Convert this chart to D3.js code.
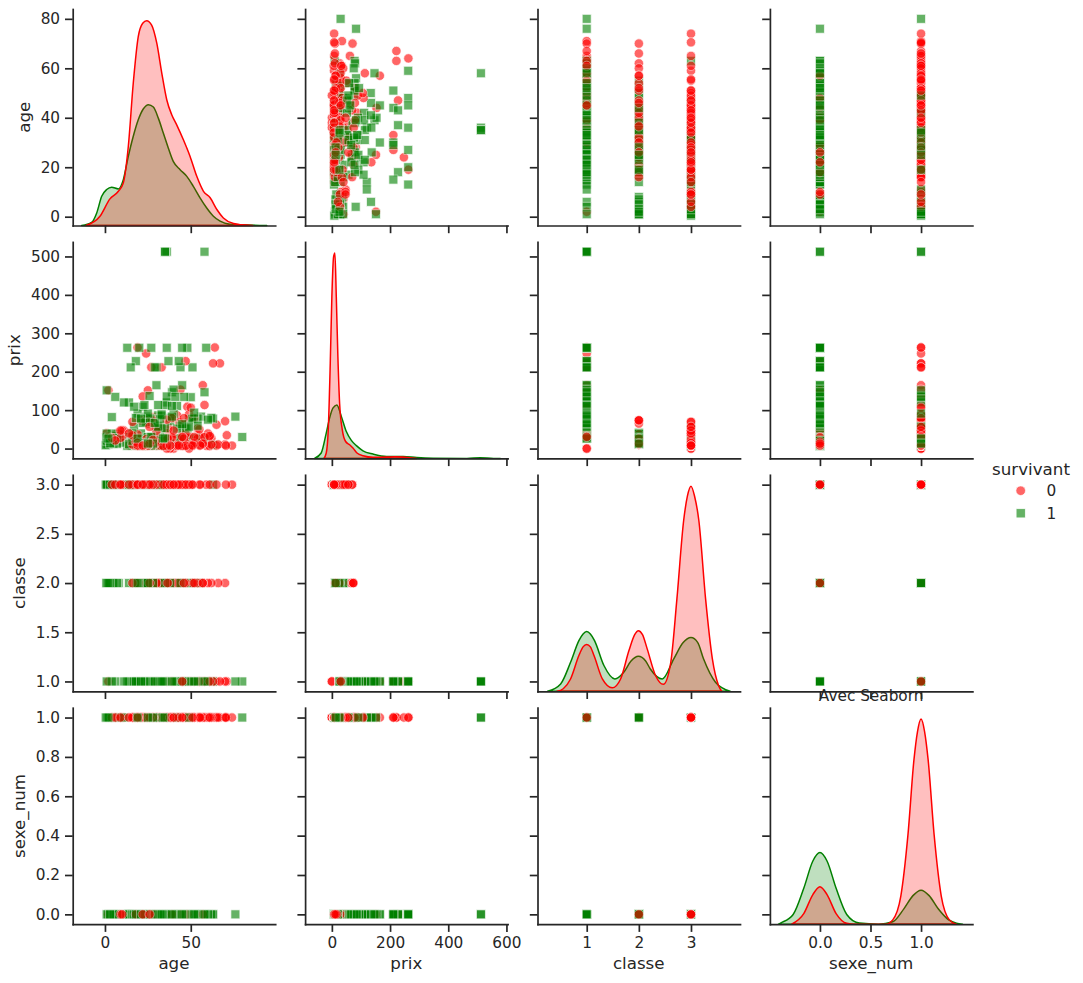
<html>
    <head>
        <title>Pairplot Titanic - Avec Seaborn</title>
        <style>
            body { margin: 0; background: #ffffff; }
            text { font-family: "DejaVu Sans", sans-serif; }
        </style>
    </head>
    <body>
        <svg></svg>

        <script src="https://d3js.org/d3.v7.min.js"></script>
        <script>
            // variables of the pairplot, in grid order
            const variables = ["age", "prix", "classe", "sexe_num"];
            const hueLevels = ["0", "1"];

            // passengers who died (survivant = 0): [age, prix, classe, sexe_num]
            const morts = [
                [71, 34.65, 1, 1], [22, 7.25, 3, 1], [70, 71.0, 1, 1], [35, 8.05, 3, 1], [65, 61.98, 1, 1],
                [2, 21.08, 3, 1], [64, 263.0, 1, 1], [20, 8.05, 3, 1], [62, 26.55, 1, 1], [39, 31.28, 3, 1],
                [61, 33.5, 1, 1], [14, 7.85, 3, 0], [67, 221.78, 1, 1], [31, 18.0, 3, 0], [63, 221.78, 1, 1],
                [28, 7.9, 3, 1], [58, 113.28, 1, 1], [8, 21.07, 3, 0], [57, 164.87, 1, 1], [21, 8.05, 3, 1],
                [56, 30.7, 1, 1], [18, 18.0, 3, 0], [55, 30.5, 1, 1], [40, 9.48, 3, 1], [54, 51.86, 1, 1],
                [3, 21.07, 3, 1], [52, 79.65, 1, 1], [7, 39.69, 3, 1], [50, 28.71, 1, 0], [16, 7.75, 3, 1],
                [47, 227.53, 1, 0], [25, 7.05, 3, 1], [46, 61.18, 1, 1], [26, 14.45, 3, 1], [45, 35.5, 1, 1],
                [30, 8.66, 3, 1], [44, 153.46, 1, 1], [24, 9.5, 3, 1], [42, 86.5, 1, 1], [45, 8.05, 3, 0],
                [40, 0.0, 1, 1], [9, 31.39, 3, 1], [38, 0.0, 1, 1], [11, 46.9, 3, 1], [37, 53.1, 1, 1],
                [43, 69.55, 3, 1], [36, 40.13, 1, 1], [47, 9.0, 3, 1], [33, 211.34, 1, 1], [4, 29.12, 3, 1],
                [31, 50.5, 1, 1], [33, 7.9, 3, 1], [29, 30.0, 1, 1], [19, 7.88, 3, 1], [28, 82.17, 1, 1],
                [29, 9.5, 3, 0], [27, 211.5, 1, 1], [37, 7.92, 3, 1], [25, 151.55, 1, 0], [1, 39.69, 3, 1],
                [24, 247.52, 1, 1], [32, 56.5, 3, 1], [22, 135.63, 1, 1], [51, 7.05, 3, 1], [19, 263.0, 1, 1],
                [55, 8.05, 3, 1], [2, 151.55, 1, 0], [59, 7.25, 3, 1], [48, 108.9, 1, 1], [61, 6.24, 3, 1],
                [70, 10.5, 2, 1], [65, 7.75, 3, 1], [66, 10.5, 2, 1], [74, 7.78, 3, 1], [62, 10.5, 2, 1],
                [70.5, 7.75, 3, 1], [60, 39.0, 2, 1], [48, 34.38, 3, 0], [57, 12.35, 2, 0], [41, 14.11, 3, 0],
                [54, 26.0, 2, 1], [36, 24.15, 3, 1], [51, 12.53, 2, 1], [23, 7.85, 3, 1], [47, 15.0, 2, 1],
                [27, 7.23, 3, 1], [44, 26.0, 2, 0], [17, 7.23, 3, 1], [43, 21.0, 2, 1], [10, 29.12, 3, 1],
                [39, 26.0, 2, 1], [6, 31.28, 3, 0], [36, 13.0, 2, 1], [5, 31.39, 3, 1], [34, 13.0, 2, 1],
                [34, 8.05, 3, 1], [33, 12.28, 2, 1], [38, 7.9, 3, 1], [31, 10.5, 2, 1], [42, 8.66, 3, 1],
                [30, 21.0, 2, 1], [44, 16.1, 3, 1], [28, 73.5, 2, 1], [50, 8.05, 3, 1], [27, 26.0, 2, 0],
                [20, 9.84, 3, 0], [25, 65.0, 2, 1], [26, 7.9, 3, 1], [24, 73.5, 2, 1], [30, 24.15, 3, 1],
                [23, 13.0, 2, 1], [22, 9.0, 3, 0], [21, 73.5, 2, 1], [15, 14.45, 3, 0], [19, 36.75, 2, 1],
                [45.5, 7.23, 3, 1], [18, 11.5, 2, 1], [40, 27.9, 3, 0], [40, 15.05, 2, 1], [2, 31.28, 3, 0],
                [16, 69.55, 3, 0], [32, 7.75, 3, 1], [28, 15.5, 3, 1], [21, 7.8, 3, 1], [35, 7.05, 3, 1],
                [41, 7.12, 3, 1], [24, 7.14, 3, 1], [19, 6.75, 3, 1],
                [18, 7.78, 3, 1], [45, 26.55, 1, 1], [26, 7.9, 3, 1], [37, 26.0, 2, 1], [44, 8.05, 3, 1],
                [49, 89.1, 1, 1], [25, 7.9, 3, 1], [29, 21.0, 2, 1], [30, 7.23, 3, 1], [58, 29.7, 1, 1],
                [33, 8.65, 3, 1], [42, 13.0, 2, 1], [17, 8.66, 3, 1], [47, 38.5, 1, 1], [28, 8.05, 3, 1],
                [24, 13.0, 2, 1], [38, 8.66, 3, 1], [39, 79.2, 1, 1], [22, 7.52, 3, 1], [52, 13.5, 2, 1],
                [45, 6.98, 3, 1], [50, 106.43, 1, 1], [49, 0.0, 3, 1], [46, 26.0, 2, 1], [36, 0.0, 3, 1],
                [36, 75.24, 1, 1], [20, 7.05, 3, 1], [57, 13.0, 2, 1], [24, 24.15, 3, 0], [46, 79.2, 1, 1],
                [9, 27.9, 3, 0], [26, 10.5, 2, 1], [10, 46.9, 3, 0], [52, 30.5, 1, 1], [4, 27.9, 3, 1],
                [32, 26.0, 2, 1], [6, 21.08, 3, 1], [55, 50.0, 1, 1], [26, 18.79, 3, 1], [16, 10.5, 2, 1],
                [39, 29.12, 3, 0], [30, 45.5, 1, 1], [35, 20.25, 3, 1], [30, 13.0, 2, 1], [32, 8.36, 3, 1],
                [61, 32.32, 1, 1], [42, 7.55, 3, 1], [36.5, 26.0, 2, 1], [55.5, 8.05, 3, 1], [29, 10.46, 3, 0],
                [30, 16.1, 3, 1], [27, 14.45, 3, 1], [47, 7.25, 3, 1], [36, 7.5, 3, 1], [21, 8.43, 3, 1],
                [34, 6.5, 3, 1], [18, 17.8, 3, 0], [38, 7.78, 3, 1], [25, 7.65, 3, 1], [43, 8.05, 3, 1],
                [51, 8.05, 3, 1], [23, 9.22, 3, 1], [16, 34.38, 3, 1], [28, 22.52, 3, 1], [40, 46.9, 3, 1],
                [9, 46.9, 3, 1], [14, 39.69, 3, 1], [26, 56.5, 3, 1], [19, 14.5, 3, 1],
                [45, 30.5, 1, 1], [19, 8.05, 3, 1], [22, 7.75, 3, 0], [26, 13.0, 2, 0]
            ];

            // passengers who survived (survivant = 1): [age, prix, classe, sexe_num]
            const survivants = [
                [80, 30.0, 1, 1], [55, 16.0, 2, 0], [76, 83.16, 1, 0], [63, 9.59, 3, 0], [63, 77.96, 1, 0],
                [52, 13.5, 2, 0], [62, 80.0, 1, 0], [47, 14.5, 3, 0], [59, 262.38, 1, 0], [50, 26.0, 2, 0],
                [58, 512.33, 1, 0], [45, 7.75, 3, 0], [58, 26.55, 1, 0], [48, 36.75, 2, 0], [56, 83.16, 1, 0],
                [41, 20.21, 3, 0], [54, 78.27, 1, 0], [45, 13.5, 2, 0], [53, 27.45, 1, 0], [39, 15.25, 3, 0],
                [52, 78.27, 1, 0], [42, 26.0, 2, 0], [51, 211.34, 1, 0], [38, 7.23, 3, 0], [50, 133.65, 1, 0],
                [40, 13.0, 2, 0], [49, 76.73, 1, 0], [35, 7.75, 3, 0], [49, 25.93, 1, 0], [36, 13.0, 2, 0],
                [48, 262.38, 1, 0], [33, 15.85, 3, 0], [48, 52.55, 1, 1], [34, 13.0, 2, 1], [48, 25.93, 1, 0],
                [32, 56.5, 3, 1], [46, 134.5, 1, 0], [32, 13.0, 2, 1], [45, 164.87, 1, 0], [31, 7.85, 3, 1],
                [45, 262.38, 1, 0], [31, 41.58, 2, 0], [44, 211.5, 1, 0], [29, 7.75, 3, 1], [44, 57.98, 1, 0],
                [30, 21.0, 2, 0], [43, 227.53, 1, 0], [27, 12.47, 3, 1], [42, 110.88, 1, 0], [29, 26.0, 2, 0],
                [42, 26.55, 1, 0], [27, 11.13, 3, 0], [40, 90.0, 1, 0], [28, 13.0, 2, 0], [39, 146.52, 1, 0],
                [26, 7.92, 3, 0], [38, 71.28, 1, 0], [26, 13.0, 2, 0], [37, 227.53, 1, 0], [26, 9.5, 3, 1],
                [36, 512.33, 1, 1], [24, 26.0, 2, 0], [36, 262.38, 1, 0], [25, 7.22, 3, 1], [36, 120.0, 1, 0],
                [22, 12.35, 2, 0], [36, 26.39, 1, 0], [24, 15.85, 3, 0], [35, 512.33, 1, 0], [21, 10.5, 2, 0],
                [35, 512.33, 1, 1], [24, 7.93, 3, 1], [35, 53.1, 1, 0], [19, 26.0, 2, 0], [35, 113.28, 1, 0],
                [23, 8.05, 3, 0], [33, 53.1, 1, 0], [17, 10.5, 2, 0], [32, 30.5, 1, 1], [22, 7.25, 3, 0],
                [31, 86.5, 1, 0], [14, 30.07, 2, 0], [30, 164.87, 1, 0], [21, 7.73, 3, 0], [30, 211.34, 1, 0],
                [8, 36.75, 2, 1], [28, 26.55, 1, 1], [20, 7.93, 3, 1], [27, 262.38, 1, 0], [6, 33.0, 2, 0],
                [27, 76.73, 1, 1], [19, 7.85, 3, 0], [26, 136.78, 1, 1], [4, 39.0, 2, 0], [24, 83.16, 1, 0],
                [18, 9.35, 3, 0], [22, 108.9, 1, 0], [3, 26.0, 2, 1], [21, 39.4, 1, 0], [16, 7.73, 3, 0],
                [20, 262.38, 1, 0], [2, 23.0, 2, 0], [18, 227.53, 1, 0], [15, 14.45, 3, 0], [17, 57.0, 1, 0],
                [1, 26.0, 2, 1], [15, 211.34, 1, 0], [13, 7.23, 3, 0], [14, 120.0, 1, 0], [0.83, 29.0, 2, 1],
                [13, 262.38, 1, 0], [9, 15.25, 3, 0], [11, 120.0, 1, 1], [7, 12.29, 3, 0], [6, 134.5, 1, 1],
                [5, 19.26, 3, 0], [4, 81.86, 1, 1], [4, 16.7, 3, 0], [1, 151.55, 1, 1], [3, 15.9, 3, 1],
                [2, 10.46, 3, 0], [1, 11.13, 3, 1], [0.42, 8.52, 3, 1],
                [38, 80.0, 1, 0], [24, 14.5, 2, 0], [28, 7.73, 3, 0], [40, 153.46, 1, 0], [27, 21.0, 2, 0],
                [18, 7.78, 3, 0], [39, 110.88, 1, 0], [34, 23.0, 2, 0], [30, 12.48, 3, 0], [33, 90.0, 1, 0],
                [38, 13.0, 2, 0], [22, 10.52, 3, 0], [24, 69.3, 1, 0], [44, 26.0, 2, 0], [36, 7.7, 3, 1],
                [29, 211.34, 1, 0], [7, 26.25, 2, 0], [14, 11.24, 3, 0], [16, 39.4, 1, 0], [5, 27.75, 2, 0],
                [4, 22.03, 3, 1], [19, 91.08, 1, 0], [3, 18.75, 2, 0], [1, 20.58, 3, 0], [22, 66.6, 1, 0],
                [25, 30.0, 2, 0], [5, 12.47, 3, 0], [30, 56.93, 1, 0], [18, 13.0, 2, 0], [3, 13.78, 3, 0],
                [26, 78.85, 1, 0], [31, 26.25, 2, 0], [19, 16.1, 3, 0], [47, 52.55, 1, 0], [35, 21.0, 2, 0],
                [24, 9.84, 3, 0], [51, 77.96, 1, 0], [23, 13.79, 2, 0], [26, 18.79, 3, 1], [54, 59.4, 1, 0],
                [1, 39.0, 2, 1], [32, 7.92, 3, 1], [60, 75.25, 1, 0], [2, 26.0, 2, 1], [16, 20.25, 3, 0],
                [17, 108.9, 1, 0], [31, 20.53, 3, 0], [31, 113.28, 1, 0], [27, 7.93, 3, 1], [36, 135.63, 1, 0],
                [25, 91.08, 1, 1], [42, 52.0, 1, 1], [31, 57.0, 1, 1], [35, 26.29, 1, 1], [49, 56.93, 1, 1],
                [27, 30.5, 1, 1], [23, 113.28, 1, 0], [41, 134.5, 1, 0], [18, 79.65, 1, 0], [21, 77.96, 1, 0],
                [45, 63.36, 1, 0], [52, 93.5, 1, 0], [39, 83.16, 1, 0], [32, 76.29, 1, 0], [58, 146.52, 1, 0],
                [29, 66.6, 1, 0], [34, 26.55, 1, 1],
                [28, 13.0, 2, 1], [19, 26.0, 2, 1], [33, 86.5, 1, 0], [25, 13.0, 2, 1]
            ];

            // density curves of the diagonal: [value, relative density]
            const kdeAge0 = [[-11.1, 0], [-2.9, 0.043], [2.9, 0.123], [7.8, 0.158], [10.7, 0.197], [13.6, 0.365],
                [16.5, 0.658], [19.4, 0.872], [22.0, 0.934], [24.3, 0.946], [27.2, 0.926], [30.2, 0.842],
                [33.1, 0.704], [36.0, 0.581], [38.9, 0.512], [41.8, 0.465], [45.7, 0.396], [49.6, 0.319],
                [53.5, 0.227], [57.4, 0.158], [61.3, 0.128], [65.2, 0.074], [69.0, 0.035], [74.9, 0.009],
                [80, 0.003], [86.2, 0]];
            const kdeAge1 = [[-13.6, 0], [-7.8, 0.014], [-4.8, 0.058], [-1.9, 0.135], [1.0, 0.166], [3.9, 0.177],
                [7.8, 0.169], [10.7, 0.212], [13.6, 0.319], [16.5, 0.412], [19.4, 0.488], [22.3, 0.538],
                [25.3, 0.558], [28.2, 0.547], [31.1, 0.496], [34.0, 0.427], [36.9, 0.358], [39.8, 0.296],
                [43.8, 0.258], [47.7, 0.227], [51.5, 0.181], [55.4, 0.128], [59.3, 0.081], [63.2, 0.043],
                [67.1, 0.02], [72.9, 0.006], [80.7, 0.003], [94.3, 0]];
            const kdePrix0 = [[-27.6, 0], [-19.3, 0.025], [-12.4, 0.132], [-5.5, 0.44], [0, 0.747], [5.9, 0.931],
                [10.4, 0.949], [15.2, 0.747], [20.7, 0.47], [26.6, 0.255], [35.9, 0.132], [47.3, 0.078],
                [61.1, 0.063], [72.5, 0.048], [86.4, 0.025], [107.1, 0.012], [141.6, 0.005], [187.9, 0.006],
                [216.6, 0.008], [245.3, 0.006], [274, 0.002], [291.5, 0]];
            const kdePrix1 = [[-59.8, 0], [-36.7, 0.025], [-19.3, 0.117], [-7.9, 0.186], [3.5, 0.232], [17.3, 0.247],
                [32.5, 0.194], [49.7, 0.124], [67, 0.083], [84.3, 0.059], [107, 0.035], [141.6, 0.02],
                [187.9, 0.009], [245.3, 0.009], [291.5, 0.004], [348.9, 0.001], [464, 0], [510, 0.003],
                [556, 0], [579, 0]];
            const kdeClasse0 = [[0.43, 0], [0.55, 0.012], [0.69, 0.057], [0.85, 0.165], [0.93, 0.205], [1.0, 0.216],
                [1.07, 0.205], [1.14, 0.165], [1.30, 0.057], [1.49, 0.016], [1.65, 0.057], [1.81, 0.188],
                [1.92, 0.262], [1.99, 0.28], [2.07, 0.262], [2.16, 0.196], [2.32, 0.073], [2.47, 0.032],
                [2.61, 0.13], [2.73, 0.427], [2.86, 0.79], [2.93, 0.9], [3.0, 0.947], [3.07, 0.9],
                [3.15, 0.79], [3.28, 0.427], [3.41, 0.15], [3.53, 0.026], [3.59, 0]];
            const kdeClasse1 = [[0.25, 0], [0.50, 0.034], [0.69, 0.134], [0.85, 0.234], [0.93, 0.265], [1.0, 0.276],
                [1.07, 0.265], [1.15, 0.234], [1.33, 0.119], [1.54, 0.057], [1.71, 0.088], [1.85, 0.14],
                [1.99, 0.162], [2.13, 0.14], [2.22, 0.103], [2.45, 0.057], [2.67, 0.15], [2.85, 0.225],
                [3.0, 0.248], [3.13, 0.225], [3.24, 0.15], [3.47, 0.042], [3.75, 0]];
            const kdeSexe0 = [[-0.28, 0], [-0.16, 0.049], [-0.07, 0.137], [0, 0.173], [0.07, 0.137], [0.16, 0.049],
                [0.265, 0.004], [0.35, 0], [0.65, 0], [0.72, 0.02], [0.80, 0.13], [0.87, 0.41], [0.93, 0.76],
                [0.965, 0.89], [1.0, 0.948], [1.035, 0.89], [1.07, 0.76], [1.13, 0.41], [1.20, 0.13],
                [1.28, 0.02], [1.35, 0]];
            const kdeSexe1 = [[-0.41, 0], [-0.39, 0.005], [-0.265, 0.045], [-0.16, 0.166], [-0.07, 0.292], [0, 0.331],
                [0.07, 0.292], [0.16, 0.166], [0.265, 0.045], [0.39, 0.005], [0.58, 0], [0.72, 0.011],
                [0.83, 0.071], [0.92, 0.132], [1.0, 0.157], [1.08, 0.132], [1.17, 0.071], [1.27, 0.021],
                [1.35, 0.005], [1.41, 0]];

            // tick values of each variable, on the x axes and on the y axes
            const ageXTicks = [0, 50];
            const ageYTicks = [0, 20, 40, 60, 80];
            const prixXTicks = [0, 200, 400, 600];
            const prixYTicks = [0, 100, 200, 300, 400, 500];
            const classeXTicks = [1, 2, 3];
            const classeYTicks = [1.0, 1.5, 2.0, 2.5, 3.0];
            const sexeXTicks = [0.0, 0.5, 1.0];
            const sexeYTicks = [0.0, 0.2, 0.4, 0.6, 0.8, 1.0];

            window.onload = function() {
                const width = 1083;
                const height = 983;
                const ink = "#262626";
                const colors = ["#ff0000", "#008000"];

                const svg = d3.select("svg")
                    .attr("width", width)
                    .attr("height", height);

                // grid of the 4 x 4 axes
                const gridLeft = 72.7, gridTop = 9;
                const stepX = 232.4, stepY = 232.9;
                const panelW = 202.5, panelH = 216.5;

                // axis limits (matplotlib adds margins around the data)
                const xDomains = [[-18.8, 99.2], [-92, 604], [0.056, 3.94], [-0.495, 1.508]];
                const yDomains = [[-3.56, 83.98], [-25.6, 537.9], [0.9, 3.1], [-0.05, 1.05]];
                const xTicks = [ageXTicks, prixXTicks, classeXTicks, sexeXTicks];
                const yTicks = [ageYTicks, prixYTicks, classeYTicks, sexeYTicks];
                const xFormats = [d3.format("d"), d3.format("d"), d3.format("d"), d3.format(".1f")];
                const yFormats = [d3.format("d"), d3.format("d"), d3.format(".1f"), d3.format(".1f")];
                const kdes = [[kdeAge0, kdeAge1], [kdePrix0, kdePrix1], [kdeClasse0, kdeClasse1], [kdeSexe0, kdeSexe1]];

                // mix both groups (aligned on their last rows), seaborn draws all points in data order
                const points = [];
                const n = Math.max(morts.length, survivants.length);
                for (let k = n; k >= 1; k--) {
                    const im = morts.length - k;
                    const is = survivants.length - k;
                    if (im >= 0) points.push({ v: morts[im], s: 0 });
                    if (is >= 0) points.push({ v: survivants[is], s: 1 });
                }

                function styleAxis(ax) {
                    ax.attr("font-family", null).attr("font-size", null);
                    ax.select(".domain")
                        .attr("stroke", ink)
                        .attr("stroke-width", 1.7)
                        .attr("stroke-linecap", "square");
                    ax.selectAll(".tick line")
                        .attr("stroke", ink)
                        .attr("stroke-width", 1.7);
                    ax.selectAll(".tick text")
                        .attr("fill", ink)
                        .attr("font-size", 15.3)
                        .attr("font-family", "DejaVu Sans");
                }

                const rCircle = 4.7;
                const hSquare = 4.5;

                for (let r = 0; r < 4; r++) {
                    for (let c = 0; c < 4; c++) {
                        const left = gridLeft + c * stepX;
                        const top = gridTop + r * stepY;

                        const x = d3.scaleLinear()
                            .domain(xDomains[c])
                            .range([left, left + panelW]);
                        const y = d3.scaleLinear()
                            .domain(yDomains[r])
                            .range([top + panelH, top]);

                        const panel = svg.append("g");

                        if (r === c) {
                            // density on the diagonal, own hidden scale
                            const yd = d3.scaleLinear()
                                .domain([0, 1])
                                .range([top + panelH, top]);
                            const area = d3.area()
                                .x(function(d) { return x(d[0]); })
                                .y0(top + panelH)
                                .y1(function(d) { return yd(d[1]); })
                                .curve(d3.curveMonotoneX);
                            // seaborn draws the hue levels in reverse order
                            [1, 0].forEach(function(s) {
                                panel.append("path")
                                    .datum(kdes[c][s])
                                    .attr("d", area)
                                    .attr("fill", colors[s])
                                    .attr("fill-opacity", 0.25)
                                    .attr("stroke", colors[s])
                                    .attr("stroke-width", 1.5)
                                    .attr("stroke-linejoin", "round");
                            });
                        } else {
                            panel.selectAll("path.pt")
                                .data(points)
                                .join("path")
                                .attr("class", "pt")
                                .attr("d", function(d) {
                                    const px = x(d.v[c]);
                                    const py = y(d.v[r]);
                                    if (d.s === 0) {
                                        return "M" + (px - rCircle) + "," + py +
                                            "a" + rCircle + "," + rCircle + " 0 1,0 " + (2 * rCircle) + ",0" +
                                            "a" + rCircle + "," + rCircle + " 0 1,0 " + (-2 * rCircle) + ",0Z";
                                    }
                                    return "M" + (px - hSquare) + "," + (py - hSquare) + "h" + (2 * hSquare) +
                                        "v" + (2 * hSquare) + "h" + (-2 * hSquare) + "Z";
                                })
                                .attr("fill", function(d) { return colors[d.s]; })
                                .attr("stroke", "#ffffff")
                                .attr("stroke-width", 0.7)
                                .attr("opacity", 0.6);
                        }

                        // left axis: ticks of the row variable
                        const axL = svg.append("g")
                            .attr("transform", "translate(" + left + ",0)")
                            .call(d3.axisLeft(y)
                                .tickValues(yTicks[r])
                                .tickSize(7.7)
                                .tickSizeOuter(0)
                                .tickPadding(4.9)
                                .tickFormat(c === 0 ? yFormats[r] : ""));
                        styleAxis(axL);

                        // bottom axis: ticks of the column variable
                        const axB = svg.append("g")
                            .attr("transform", "translate(0," + (top + panelH) + ")")
                            .call(d3.axisBottom(x)
                                .tickValues(xTicks[c])
                                .tickSize(7.7)
                                .tickSizeOuter(0)
                                .tickPadding(4.9)
                                .tickFormat(r === 3 ? xFormats[c] : ""));
                        styleAxis(axB);

                        // y label left of the first column
                        if (c === 0) {
                            const bb = axL.node().getBBox();
                            const tickLeft = left + bb.x;
                            svg.append("text")
                                .attr("transform", "translate(" + (tickLeft - 11) + "," + (top + panelH / 2) + ") rotate(-90)")
                                .attr("text-anchor", "middle")
                                .attr("font-size", 16.7)
                                .attr("fill", ink)
                                .text(variables[r]);
                        }

                        // x label under the last row
                        if (r === 3) {
                            svg.append("text")
                                .attr("x", left + panelW / 2)
                                .attr("y", 969)
                                .attr("text-anchor", "middle")
                                .attr("font-size", 16.7)
                                .attr("fill", ink)
                                .text(variables[c]);
                        }
                    }
                }

                // title of the last axes
                svg.append("text")
                    .attr("x", gridLeft + 3 * stepX + panelW / 2)
                    .attr("y", 700.6)
                    .attr("text-anchor", "middle")
                    .attr("font-size", 15.3)
                    .attr("fill", ink)
                    .text("Avec Seaborn");

                // legend
                const legend = svg.append("g");
                legend.append("text")
                    .attr("x", 1031)
                    .attr("y", 474.5)
                    .attr("text-anchor", "middle")
                    .attr("font-size", 16.7)
                    .attr("fill", ink)
                    .text("survivant");
                hueLevels.forEach(function(level, i) {
                    const cy = 490.7 + i * 22.6;
                    if (i === 0) {
                        legend.append("circle")
                            .attr("cx", 1020.7)
                            .attr("cy", cy)
                            .attr("r", 4.8)
                            .attr("fill", colors[i])
                            .attr("stroke", "#ffffff")
                            .attr("stroke-width", 0.7)
                            .attr("opacity", 0.6);
                    } else {
                        legend.append("rect")
                            .attr("x", 1020.7 - 4.6)
                            .attr("y", cy - 4.6)
                            .attr("width", 9.2)
                            .attr("height", 9.2)
                            .attr("fill", colors[i])
                            .attr("stroke", "#ffffff")
                            .attr("stroke-width", 0.7)
                            .attr("opacity", 0.6);
                    }
                    legend.append("text")
                        .attr("x", 1046.5)
                        .attr("y", cy + 5.4)
                        .attr("font-size", 15.3)
                        .attr("fill", ink)
                        .text(level);
                });
            }
        </script>
    </body>
</html>
